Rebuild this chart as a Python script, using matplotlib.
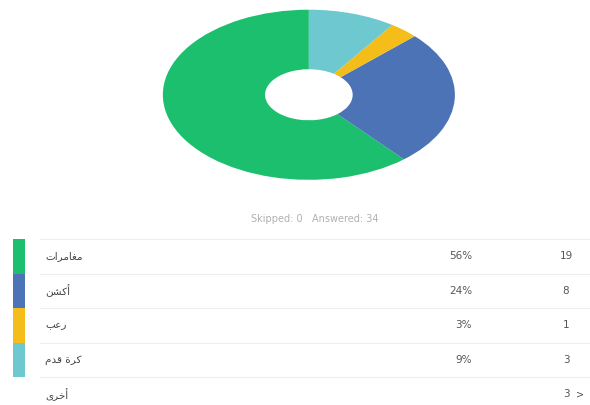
import matplotlib
matplotlib.use('Agg')
import matplotlib.pyplot as plt

# data
labels = ['مغامرات', 'أكشن', 'رعب', 'كرة قدم', 'أخرى']
percents = ['56%', '24%', '3%', '9%', '']
counts = [19, 8, 1, 3, 3]
colors = ['#1bbf6e', '#4b73b5', '#f5bd19', '#6dc8cf', None]
skipped = 0
answered = 34

# minimal arabic shaping: (isolated, final, initial, medial)
FORMS = {
    'ا': ('\uFE8D', '\uFE8E', None, None),
    'أ': ('\uFE83', '\uFE84', None, None),
    'ب': ('\uFE8F', '\uFE90', '\uFE91', '\uFE92'),
    'ة': ('\uFE93', '\uFE94', None, None),
    'ت': ('\uFE95', '\uFE96', '\uFE97', '\uFE98'),
    'خ': ('\uFEA5', '\uFEA6', '\uFEA7', '\uFEA8'),
    'د': ('\uFEA9', '\uFEAA', None, None),
    'ر': ('\uFEAD', '\uFEAE', None, None),
    'ش': ('\uFEB5', '\uFEB6', '\uFEB7', '\uFEB8'),
    'ع': ('\uFEC9', '\uFECA', '\uFECB', '\uFECC'),
    'غ': ('\uFECD', '\uFECE', '\uFECF', '\uFED0'),
    'ق': ('\uFED5', '\uFED6', '\uFED7', '\uFED8'),
    'ك': ('\uFED9', '\uFEDA', '\uFEDB', '\uFEDC'),
    'م': ('\uFEE1', '\uFEE2', '\uFEE3', '\uFEE4'),
    'ن': ('\uFEE5', '\uFEE6', '\uFEE7', '\uFEE8'),
    'ى': ('\uFEEF', '\uFEF0', None, None),
}


def shape(word):
    out = []
    chars = list(word)
    for i, c in enumerate(chars):
        if c not in FORMS:
            out.append(c)
            continue
        prev = chars[i - 1] if i > 0 else None
        nxt = chars[i + 1] if i < len(chars) - 1 else None
        join_prev = prev in FORMS and FORMS[prev][2] is not None
        join_next = nxt in FORMS and FORMS[c][2] is not None
        iso, fin, ini, med = FORMS[c]
        if join_prev and join_next:
            out.append(med)
        elif join_prev:
            out.append(fin)
        elif join_next:
            out.append(ini)
        else:
            out.append(iso)
    return ''.join(reversed(out))


fig = plt.figure(figsize=(5.9, 4.05), dpi=100)

# pie (elliptical donut)
pie_ax = fig.add_axes([0.276, 0.556, 0.495, 0.42])
pie_ax.pie(counts[:4], colors=colors[:4], startangle=90, counterclock=True,
           wedgeprops=dict(width=0.7, linewidth=0))
pie_ax.set_aspect('auto')
pie_ax.set_xlim(-1, 1)
pie_ax.set_ylim(-1, 1)
pie_ax.axis('off')

# table area in pixel coordinates
ax = fig.add_axes([0, 0, 1, 1])
ax.set_xlim(0, 590)
ax.set_ylim(405, 0)
ax.axis('off')

ax.text(315, 219, f'Skipped: {skipped}   Answered: {answered}', ha='center',
        va='center', fontsize=7, color='#b0b0b0')

row_top = 239
row_h = 34.5
for i, (lab, pct, cnt, col) in enumerate(zip(labels, percents, counts, colors)):
    y0 = row_top + i * row_h
    yc = y0 + row_h / 2
    if col is not None:
        ax.fill_between([13, 25], y0, y0 + row_h, color=col, linewidth=0)
    ax.plot([40, 590], [y0 + row_h, y0 + row_h], color='#eeeeee', lw=0.8)
    ax.text(45, yc, shape(lab), ha='left', va='center', fontsize=7.5,
            color='#444444', family='DejaVu Sans')
    if pct:
        ax.text(472, yc, pct, ha='right', va='center', fontsize=7.5, color='#555555')
    ax.text(566, yc, str(cnt), ha='center', va='center', fontsize=7.5, color='#555555')
ax.plot([40, 590], [row_top, row_top], color='#eeeeee', lw=0.8)
ax.text(576, row_top + 4.5 * row_h, '>', ha='left', va='center', fontsize=7, color='#555555')

fig.savefig('out.png', dpi=100)
